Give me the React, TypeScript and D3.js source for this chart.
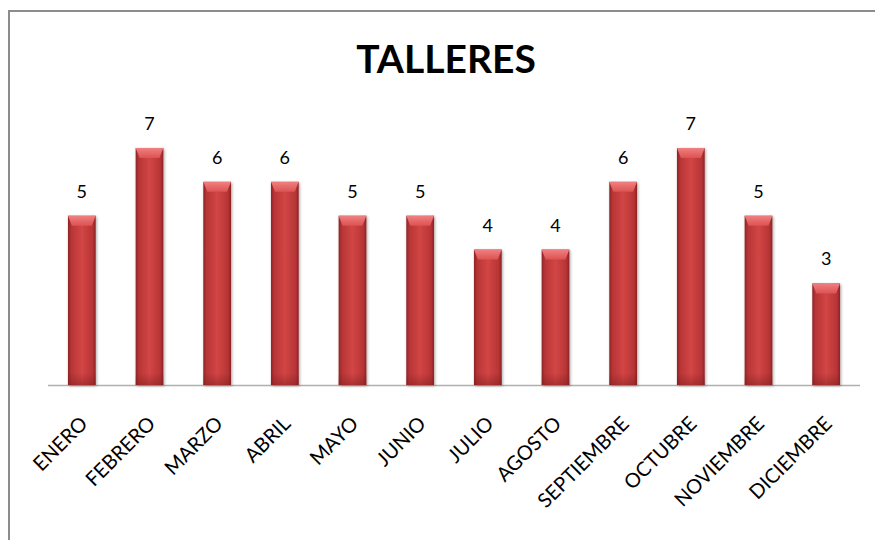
import React from "react";
import * as d3 from "d3";

const months = ["ENERO", "FEBRERO", "MARZO", "ABRIL", "MAYO", "JUNIO", "JULIO", "AGOSTO", "SEPTIEMBRE", "OCTUBRE", "NOVIEMBRE", "DICIEMBRE"];
const values = [5, 7, 6, 6, 5, 5, 4, 4, 6, 7, 5, 3];
const title = "TALLERES";

const W = 875;
const H = 540;

export default function App() {
  const x = d3.scaleBand<string>().domain(months).range([48, 860]).paddingInner(0.59).paddingOuter(0.295);
  const y = d3.scaleLinear().domain([0, 7]).range([385, 148]);
  const bw = x.bandwidth();
  const font = "Lato, 'Open Sans', sans-serif";
  return (
    <div style={{ position: "absolute", left: 0, top: 0, width: W, height: H }}>
      <svg width={W} height={H} style={{ display: "block", background: "#fff" }}>
        <defs>
          <linearGradient id="barG" x1="0" x2="1" y1="0" y2="0">
            <stop offset="0" stopColor="#8e2425" />
            <stop offset="0.12" stopColor="#b83536" />
            <stop offset="0.5" stopColor="#d24545" />
            <stop offset="0.88" stopColor="#b83536" />
            <stop offset="1" stopColor="#8e2425" />
          </linearGradient>
          <linearGradient id="topG" x1="0" x2="0" y1="0" y2="1">
            <stop offset="0" stopColor="#f08080" />
            <stop offset="1" stopColor="#dd5252" />
          </linearGradient>
          <linearGradient id="botG" x1="0" x2="0" y1="0" y2="1">
            <stop offset="0" stopColor="#7a1c1c" stopOpacity="0" />
            <stop offset="1" stopColor="#7a1c1c" stopOpacity="0.45" />
          </linearGradient>
          <filter id="sh" x="-30%" y="-10%" width="160%" height="120%">
            <feGaussianBlur in="SourceAlpha" stdDeviation="1.5" />
            <feOffset dx="1" dy="1" result="b" />
            <feComponentTransfer><feFuncA type="linear" slope="0.35" /></feComponentTransfer>
            <feMerge><feMergeNode /><feMergeNode in="SourceGraphic" /></feMerge>
          </filter>
        </defs>
        <rect x={9} y={11} width={W + 10} height={H + 10} fill="none" stroke="#8c8c8c" strokeWidth={2} />
        <text x={446} y={73} textAnchor="middle" fontFamily={font} fontWeight={700} fontSize={39} fill="#000">{title}</text>
        <line x1={48} x2={860} y1={385.5} y2={385.5} stroke="#b0b0b0" strokeWidth={1.5} />
        {months.map((m, i) => {
          const x0 = x(m)!;
          const y0 = y(values[i]);
          const h = y(0) - y0;
          const bev = 10;
          const top = `M${x0},${y0}L${x0 + bw},${y0}L${x0 + bw - 4},${y0 + bev}L${x0 + 4},${y0 + bev}Z`;
          return (
            <g key={m}>
              <g filter="url(#sh)">
                <rect x={x0} y={y0} width={bw} height={h} fill="url(#barG)" />
              </g>
              <path d={top} fill="url(#topG)" />
              <rect x={x0} y={y(0) - 12} width={bw} height={12} fill="url(#botG)" />
              <text x={x0 + bw / 2} y={y0 - 18} textAnchor="middle" fontFamily={font} fontSize={18} fill="#000">{values[i]}</text>
              <text transform={`translate(${x0 + bw / 2 + 7},${425}) rotate(-45)`} textAnchor="end" fontFamily={font} fontSize={20} fill="#000">{m}</text>
            </g>
          );
        })}
      </svg>
    </div>
  );
}
